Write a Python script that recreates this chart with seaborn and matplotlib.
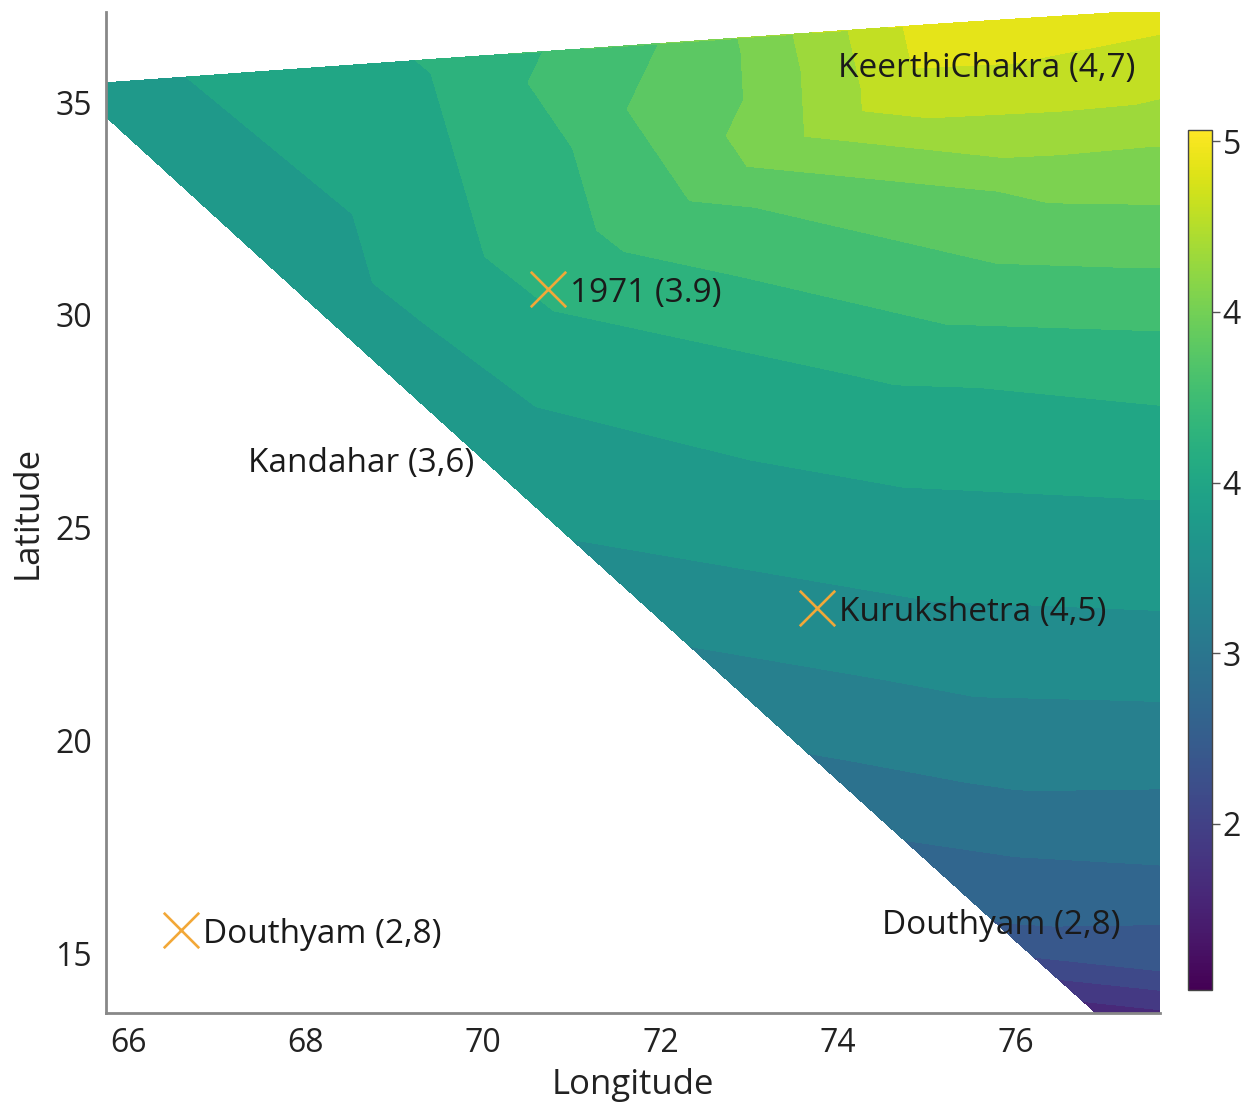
import numpy as np
import matplotlib
matplotlib.use("Agg")
import matplotlib.pyplot as plt
import matplotlib.tri as mtri
from matplotlib.colors import Normalize
from matplotlib.cm import ScalarMappable
import seaborn as sns
import pandas as pd

# sampled field: longitude, latitude, value
pt_lon = [65.36, 69.5, 72.5, 75.2, 78.2,
          78.2, 78.2, 78.2, 78.2, 78.2, 78.2, 78.2, 78.2, 78.2,
          68.0, 71.0, 74.0, 76.0, 77.25,
          70.4, 72.1, 73.3, 74.6,
          74.5, 75.0, 76.0, 76.5, 76.5]
pt_lat = [35.40, 36.02, 36.44, 36.85, 37.25,
          34.6, 32.0, 29.0, 26.0, 23.0, 20.0, 17.0, 14.5, 12.5,
          30.38, 24.72, 19.06, 15.29, 12.95,
          29.4, 32.4, 33.9, 35.1,
          28.0, 23.5, 19.0, 33.0, 35.3]
pt_val = [3.30, 3.62, 4.08, 4.95, 4.85,
          4.50, 4.12, 3.72, 3.43, 3.20, 2.92, 2.60, 2.22, 1.50,
          3.28, 3.20, 2.75, 2.35, 1.45,
          3.50, 3.93, 4.30, 4.70,
          3.55, 3.22, 2.82, 4.25, 4.70]

# marked sites
site_name = ["1971 (3.9)", "Kurukshetra (4,5)", "Douthyam (2,8)"]
site_lon = [70.73, 73.76, 66.59]
site_lat = [30.6, 23.1, 15.54]

# free labels
note_text = ["KeerthiChakra (4,7)", "Kandahar (3,6)", "Douthyam (2,8)"]
note_lon = [74.0, 67.35, 74.5]
note_lat = [35.8, 26.5, 15.65]

vmin, vmax = 1.27, 5.05
cbar_ticks = [2.0, 2.75, 3.5, 4.25, 5.0]

sns.set_theme(style="white")
plt.rcParams["font.family"] = ["Open Sans", "DejaVu Sans"]

fig = plt.figure(figsize=(12.53, 11.06), dpi=100)
ax = fig.add_axes([0.0846, 0.0841, 0.8412, 0.905])
cax = fig.add_axes([0.948, 0.105, 0.019, 0.7775])

norm = Normalize(vmin=vmin, vmax=vmax)
tri = mtri.Triangulation(pt_lon, pt_lat)
ax.tricontourf(tri, pt_val, levels=np.arange(1.2, 5.3, 0.2),
               cmap="viridis", norm=norm)

sites = pd.DataFrame({"lon": site_lon, "lat": site_lat})
sns.scatterplot(data=sites, x="lon", y="lat", marker="x", s=650,
                color="#f2a838", linewidth=1.9, ax=ax, zorder=5)
for name, x, y in zip(site_name, site_lon, site_lat):
    ax.text(x + 0.25, y - 0.1, name, fontsize=24, va="center", ha="left",
            color="#1a1a1a", zorder=6)
for name, x, y in zip(note_text, note_lon, note_lat):
    ax.text(x, y, name, fontsize=24, va="center", ha="left",
            color="#1a1a1a", zorder=6)

ax.set_xlim(65.75, 77.63)
ax.set_ylim(13.59, 37.12)
ax.set_xticks([66, 68, 70, 72, 74, 76])
ax.set_yticks([15, 20, 25, 30, 35])
ax.set_xlabel("Longitude", fontsize=25, color="#222222", labelpad=6)
ax.set_ylabel("Latitude", fontsize=25, color="#222222", labelpad=8)
ax.tick_params(direction="in", length=10, width=1.2, color="#777777",
               labelsize=23, labelcolor="#222222", pad=10)
for side in ["top", "right"]:
    ax.spines[side].set_visible(False)
for side in ["left", "bottom"]:
    ax.spines[side].set_color("#888888")
    ax.spines[side].set_linewidth(2)

cb = fig.colorbar(ScalarMappable(norm=norm, cmap="viridis"), cax=cax,
                  ticks=cbar_ticks)
cb.ax.set_yticklabels([f"{t:.0f}" for t in cbar_ticks])
cb.ax.tick_params(labelsize=23, labelcolor="#222222", length=6,
                  width=1, color="#555555", pad=2)
cb.outline.set_edgecolor("#444444")
cb.outline.set_linewidth(1)

fig.savefig("out.png", dpi=100, facecolor="white")
